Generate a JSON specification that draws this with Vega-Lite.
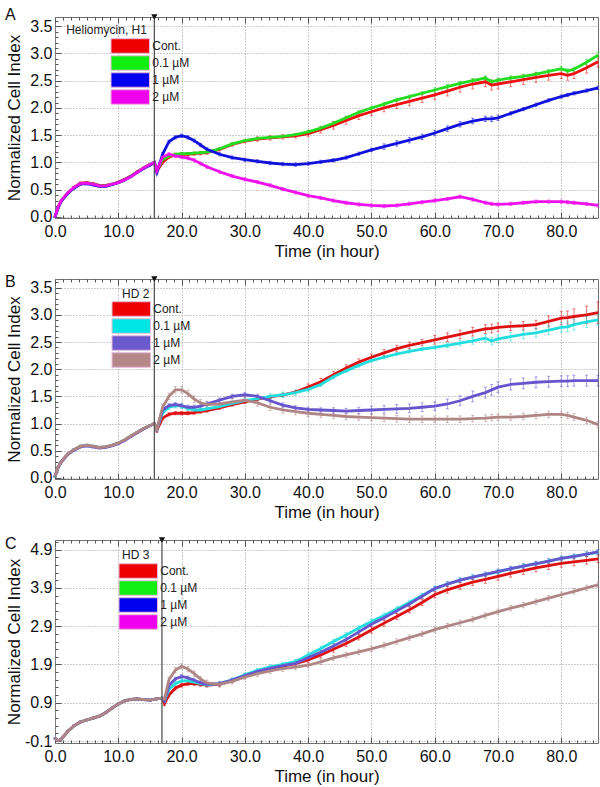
{
"$schema":"https://vega.github.io/schema/vega-lite/v6.json",
"padding":{"left":4,"top":6,"right":2,"bottom":2},
"bounds":"flush",
"spacing":61,
"resolve":{"scale":{"color":"independent","fill":"independent"},"legend":{"color":"independent","fill":"independent"}},
"config":{"font":"Liberation Sans","view":{"stroke":"#707070","strokeWidth":1},
"axis":{"labelFont":"Liberation Sans","titleFont":"Liberation Sans","labelColor":"#111","titleColor":"#111","titleFontWeight":"normal","labelFontSize":16,"titleFontSize":17,"labelOverlap":false,"labelFlush":false,"labelBound":false},
"title":{"font":"Liberation Sans","fontSize":16,"fontWeight":"normal","anchor":"start","frame":"bounds","color":"#111"},
"legend":{"labelFont":"Liberation Sans"}},
"datasets":{
"A":[
{"s":"Cont.","t":0,"v":0,"e":0.01},{"s":"Cont.","t":0.5,"v":0.18,"e":0.01},{"s":"Cont.","t":1,"v":0.3,"e":0.01},{"s":"Cont.","t":2,"v":0.44,"e":0.01},{"s":"Cont.","t":3,"v":0.54,"e":0.02},{"s":"Cont.","t":4,"v":0.62,"e":0.02},{"s":"Cont.","t":5,"v":0.63,"e":0.02},{"s":"Cont.","t":6,"v":0.61,"e":0.02},{"s":"Cont.","t":7,"v":0.58,"e":0.01},{"s":"Cont.","t":8,"v":0.58,"e":0.01},{"s":"Cont.","t":9,"v":0.6,"e":0.01},{"s":"Cont.","t":10,"v":0.64,"e":0.01},{"s":"Cont.","t":11,"v":0.69,"e":0.01},{"s":"Cont.","t":12,"v":0.75,"e":0.01},{"s":"Cont.","t":13,"v":0.83,"e":0.01},{"s":"Cont.","t":14,"v":0.9,"e":0.01},{"s":"Cont.","t":15,"v":0.96,"e":0.01},{"s":"Cont.","t":15.7,"v":1.0,"e":0.01},
{"s":"Cont.","t":16.1,"v":0.84,"e":0.03},{"s":"Cont.","t":17,"v":1.0,"e":0.03},{"s":"Cont.","t":18,"v":1.1,"e":0.03},{"s":"Cont.","t":19,"v":1.14,"e":0.03},{"s":"Cont.","t":20,"v":1.15,"e":0.03},{"s":"Cont.","t":21,"v":1.15,"e":0.03},{"s":"Cont.","t":22,"v":1.16,"e":0.03},{"s":"Cont.","t":23,"v":1.17,"e":0.03},{"s":"Cont.","t":24,"v":1.18,"e":0.03},{"s":"Cont.","t":26,"v":1.24,"e":0.03},{"s":"Cont.","t":28,"v":1.33,"e":0.03},{"s":"Cont.","t":30,"v":1.39,"e":0.03},{"s":"Cont.","t":32,"v":1.43,"e":0.04},{"s":"Cont.","t":34,"v":1.45,"e":0.04},{"s":"Cont.","t":36,"v":1.47,"e":0.04},{"s":"Cont.","t":38,"v":1.49,"e":0.04},{"s":"Cont.","t":40,"v":1.53,"e":0.05},{"s":"Cont.","t":42,"v":1.6,"e":0.06},{"s":"Cont.","t":44,"v":1.68,"e":0.07},{"s":"Cont.","t":46,"v":1.77,"e":0.07},{"s":"Cont.","t":48,"v":1.86,"e":0.07},{"s":"Cont.","t":50,"v":1.93,"e":0.07},{"s":"Cont.","t":52,"v":2.0,"e":0.07},{"s":"Cont.","t":54,"v":2.06,"e":0.07},{"s":"Cont.","t":56,"v":2.12,"e":0.08},{"s":"Cont.","t":58,"v":2.18,"e":0.08},{"s":"Cont.","t":60,"v":2.24,"e":0.09},{"s":"Cont.","t":62,"v":2.31,"e":0.09},{"s":"Cont.","t":64,"v":2.38,"e":0.09},{"s":"Cont.","t":66,"v":2.44,"e":0.09},{"s":"Cont.","t":68,"v":2.48,"e":0.09},{"s":"Cont.","t":69,"v":2.42,"e":0.09},{"s":"Cont.","t":70,"v":2.44,"e":0.09},{"s":"Cont.","t":72,"v":2.48,"e":0.09},{"s":"Cont.","t":74,"v":2.52,"e":0.09},{"s":"Cont.","t":76,"v":2.56,"e":0.09},{"s":"Cont.","t":78,"v":2.6,"e":0.09},{"s":"Cont.","t":80,"v":2.63,"e":0.09},{"s":"Cont.","t":81,"v":2.6,"e":0.09},{"s":"Cont.","t":82,"v":2.63,"e":0.09},{"s":"Cont.","t":84,"v":2.74,"e":0.1},{"s":"Cont.","t":85.8,"v":2.85,"e":0.1},
{"s":"0.1 µM","t":0,"v":0,"e":0.01},{"s":"0.1 µM","t":0.5,"v":0.17,"e":0.01},{"s":"0.1 µM","t":1,"v":0.3,"e":0.01},{"s":"0.1 µM","t":2,"v":0.43,"e":0.01},{"s":"0.1 µM","t":3,"v":0.53,"e":0.02},{"s":"0.1 µM","t":4,"v":0.61,"e":0.02},{"s":"0.1 µM","t":5,"v":0.62,"e":0.02},{"s":"0.1 µM","t":6,"v":0.6,"e":0.02},{"s":"0.1 µM","t":7,"v":0.57,"e":0.01},{"s":"0.1 µM","t":8,"v":0.57,"e":0.01},{"s":"0.1 µM","t":9,"v":0.6,"e":0.01},{"s":"0.1 µM","t":10,"v":0.63,"e":0.01},{"s":"0.1 µM","t":11,"v":0.68,"e":0.01},{"s":"0.1 µM","t":12,"v":0.75,"e":0.01},{"s":"0.1 µM","t":13,"v":0.82,"e":0.01},{"s":"0.1 µM","t":14,"v":0.9,"e":0.01},{"s":"0.1 µM","t":15,"v":0.96,"e":0.01},{"s":"0.1 µM","t":15.7,"v":1.0,"e":0.01},
{"s":"0.1 µM","t":16.1,"v":0.85,"e":0.02},{"s":"0.1 µM","t":17,"v":1.05,"e":0.02},{"s":"0.1 µM","t":18,"v":1.12,"e":0.02},{"s":"0.1 µM","t":19,"v":1.15,"e":0.02},{"s":"0.1 µM","t":20,"v":1.16,"e":0.02},{"s":"0.1 µM","t":21,"v":1.16,"e":0.02},{"s":"0.1 µM","t":22,"v":1.17,"e":0.02},{"s":"0.1 µM","t":23,"v":1.18,"e":0.02},{"s":"0.1 µM","t":24,"v":1.19,"e":0.02},{"s":"0.1 µM","t":26,"v":1.25,"e":0.02},{"s":"0.1 µM","t":28,"v":1.34,"e":0.02},{"s":"0.1 µM","t":30,"v":1.4,"e":0.02},{"s":"0.1 µM","t":32,"v":1.44,"e":0.02},{"s":"0.1 µM","t":34,"v":1.46,"e":0.02},{"s":"0.1 µM","t":36,"v":1.48,"e":0.02},{"s":"0.1 µM","t":38,"v":1.51,"e":0.02},{"s":"0.1 µM","t":40,"v":1.56,"e":0.03},{"s":"0.1 µM","t":42,"v":1.63,"e":0.03},{"s":"0.1 µM","t":44,"v":1.72,"e":0.03},{"s":"0.1 µM","t":46,"v":1.82,"e":0.03},{"s":"0.1 µM","t":48,"v":1.92,"e":0.03},{"s":"0.1 µM","t":50,"v":2.0,"e":0.03},{"s":"0.1 µM","t":52,"v":2.07,"e":0.03},{"s":"0.1 µM","t":54,"v":2.15,"e":0.03},{"s":"0.1 µM","t":56,"v":2.21,"e":0.03},{"s":"0.1 µM","t":58,"v":2.27,"e":0.03},{"s":"0.1 µM","t":60,"v":2.33,"e":0.04},{"s":"0.1 µM","t":62,"v":2.39,"e":0.04},{"s":"0.1 µM","t":64,"v":2.45,"e":0.04},{"s":"0.1 µM","t":66,"v":2.5,"e":0.04},{"s":"0.1 µM","t":68,"v":2.55,"e":0.04},{"s":"0.1 µM","t":69,"v":2.48,"e":0.04},{"s":"0.1 µM","t":70,"v":2.51,"e":0.04},{"s":"0.1 µM","t":72,"v":2.55,"e":0.04},{"s":"0.1 µM","t":74,"v":2.58,"e":0.04},{"s":"0.1 µM","t":76,"v":2.62,"e":0.04},{"s":"0.1 µM","t":78,"v":2.67,"e":0.04},{"s":"0.1 µM","t":80,"v":2.72,"e":0.04},{"s":"0.1 µM","t":81,"v":2.68,"e":0.04},{"s":"0.1 µM","t":82,"v":2.71,"e":0.04},{"s":"0.1 µM","t":84,"v":2.84,"e":0.05},{"s":"0.1 µM","t":85.8,"v":2.97,"e":0.05},
{"s":"1 µM","t":0,"v":0,"e":0.01},{"s":"1 µM","t":0.5,"v":0.17,"e":0.01},{"s":"1 µM","t":1,"v":0.29,"e":0.01},{"s":"1 µM","t":2,"v":0.43,"e":0.01},{"s":"1 µM","t":3,"v":0.53,"e":0.02},{"s":"1 µM","t":4,"v":0.6,"e":0.02},{"s":"1 µM","t":5,"v":0.61,"e":0.02},{"s":"1 µM","t":6,"v":0.59,"e":0.02},{"s":"1 µM","t":7,"v":0.56,"e":0.01},{"s":"1 µM","t":8,"v":0.56,"e":0.01},{"s":"1 µM","t":9,"v":0.59,"e":0.01},{"s":"1 µM","t":10,"v":0.63,"e":0.01},{"s":"1 µM","t":11,"v":0.68,"e":0.01},{"s":"1 µM","t":12,"v":0.74,"e":0.01},{"s":"1 µM","t":13,"v":0.82,"e":0.01},{"s":"1 µM","t":14,"v":0.89,"e":0.01},{"s":"1 µM","t":15,"v":0.95,"e":0.01},{"s":"1 µM","t":15.7,"v":1.0,"e":0.01},
{"s":"1 µM","t":16.1,"v":0.82,"e":0.03},{"s":"1 µM","t":17,"v":1.15,"e":0.03},{"s":"1 µM","t":18,"v":1.38,"e":0.03},{"s":"1 µM","t":19,"v":1.46,"e":0.03},{"s":"1 µM","t":20,"v":1.49,"e":0.03},{"s":"1 µM","t":21,"v":1.46,"e":0.03},{"s":"1 µM","t":22,"v":1.4,"e":0.03},{"s":"1 µM","t":23,"v":1.32,"e":0.03},{"s":"1 µM","t":24,"v":1.24,"e":0.03},{"s":"1 µM","t":26,"v":1.15,"e":0.03},{"s":"1 µM","t":28,"v":1.09,"e":0.03},{"s":"1 µM","t":30,"v":1.05,"e":0.03},{"s":"1 µM","t":32,"v":1.02,"e":0.03},{"s":"1 µM","t":34,"v":0.99,"e":0.03},{"s":"1 µM","t":36,"v":0.97,"e":0.03},{"s":"1 µM","t":38,"v":0.96,"e":0.03},{"s":"1 µM","t":40,"v":0.98,"e":0.03},{"s":"1 µM","t":42,"v":1.01,"e":0.03},{"s":"1 µM","t":44,"v":1.04,"e":0.03},{"s":"1 µM","t":46,"v":1.09,"e":0.03},{"s":"1 µM","t":48,"v":1.16,"e":0.03},{"s":"1 µM","t":50,"v":1.23,"e":0.03},{"s":"1 µM","t":52,"v":1.29,"e":0.05},{"s":"1 µM","t":54,"v":1.35,"e":0.05},{"s":"1 µM","t":56,"v":1.41,"e":0.05},{"s":"1 µM","t":58,"v":1.47,"e":0.05},{"s":"1 µM","t":60,"v":1.54,"e":0.05},{"s":"1 µM","t":62,"v":1.62,"e":0.05},{"s":"1 µM","t":64,"v":1.7,"e":0.05},{"s":"1 µM","t":66,"v":1.76,"e":0.05},{"s":"1 µM","t":68,"v":1.8,"e":0.05},{"s":"1 µM","t":69,"v":1.8,"e":0.05},{"s":"1 µM","t":70,"v":1.82,"e":0.05},{"s":"1 µM","t":72,"v":1.9,"e":0.03},{"s":"1 µM","t":74,"v":1.98,"e":0.03},{"s":"1 µM","t":76,"v":2.06,"e":0.03},{"s":"1 µM","t":78,"v":2.14,"e":0.03},{"s":"1 µM","t":80,"v":2.21,"e":0.03},{"s":"1 µM","t":81,"v":2.24,"e":0.03},{"s":"1 µM","t":82,"v":2.27,"e":0.03},{"s":"1 µM","t":84,"v":2.32,"e":0.03},{"s":"1 µM","t":85.8,"v":2.37,"e":0.03},
{"s":"2 µM","t":0,"v":0,"e":0.01},{"s":"2 µM","t":0.5,"v":0.18,"e":0.01},{"s":"2 µM","t":1,"v":0.3,"e":0.01},{"s":"2 µM","t":2,"v":0.44,"e":0.01},{"s":"2 µM","t":3,"v":0.54,"e":0.02},{"s":"2 µM","t":4,"v":0.61,"e":0.02},{"s":"2 µM","t":5,"v":0.62,"e":0.02},{"s":"2 µM","t":6,"v":0.6,"e":0.02},{"s":"2 µM","t":7,"v":0.57,"e":0.01},{"s":"2 µM","t":8,"v":0.57,"e":0.01},{"s":"2 µM","t":9,"v":0.6,"e":0.01},{"s":"2 µM","t":10,"v":0.63,"e":0.01},{"s":"2 µM","t":11,"v":0.68,"e":0.01},{"s":"2 µM","t":12,"v":0.74,"e":0.01},{"s":"2 µM","t":13,"v":0.82,"e":0.01},{"s":"2 µM","t":14,"v":0.9,"e":0.01},{"s":"2 µM","t":15,"v":0.96,"e":0.01},{"s":"2 µM","t":15.7,"v":1.0,"e":0.01},
{"s":"2 µM","t":16.1,"v":0.85,"e":0.03},{"s":"2 µM","t":17,"v":1.1,"e":0.03},{"s":"2 µM","t":18,"v":1.15,"e":0.03},{"s":"2 µM","t":19,"v":1.12,"e":0.03},{"s":"2 µM","t":20,"v":1.1,"e":0.03},{"s":"2 µM","t":21,"v":1.08,"e":0.03},{"s":"2 µM","t":22,"v":1.04,"e":0.03},{"s":"2 µM","t":23,"v":0.98,"e":0.03},{"s":"2 µM","t":24,"v":0.92,"e":0.03},{"s":"2 µM","t":26,"v":0.83,"e":0.03},{"s":"2 µM","t":28,"v":0.75,"e":0.03},{"s":"2 µM","t":30,"v":0.69,"e":0.03},{"s":"2 µM","t":32,"v":0.64,"e":0.03},{"s":"2 µM","t":34,"v":0.58,"e":0.03},{"s":"2 µM","t":36,"v":0.51,"e":0.03},{"s":"2 µM","t":38,"v":0.45,"e":0.03},{"s":"2 µM","t":40,"v":0.39,"e":0.03},{"s":"2 µM","t":42,"v":0.35,"e":0.03},{"s":"2 µM","t":44,"v":0.3,"e":0.03},{"s":"2 µM","t":46,"v":0.26,"e":0.03},{"s":"2 µM","t":48,"v":0.23,"e":0.03},{"s":"2 µM","t":50,"v":0.21,"e":0.03},{"s":"2 µM","t":52,"v":0.2,"e":0.03},{"s":"2 µM","t":54,"v":0.21,"e":0.03},{"s":"2 µM","t":56,"v":0.24,"e":0.03},{"s":"2 µM","t":58,"v":0.27,"e":0.03},{"s":"2 µM","t":60,"v":0.3,"e":0.03},{"s":"2 µM","t":62,"v":0.33,"e":0.03},{"s":"2 µM","t":64,"v":0.37,"e":0.03},{"s":"2 µM","t":66,"v":0.32,"e":0.03},{"s":"2 µM","t":68,"v":0.26,"e":0.03},{"s":"2 µM","t":69,"v":0.24,"e":0.03},{"s":"2 µM","t":70,"v":0.23,"e":0.03},{"s":"2 µM","t":72,"v":0.24,"e":0.03},{"s":"2 µM","t":74,"v":0.26,"e":0.03},{"s":"2 µM","t":76,"v":0.28,"e":0.03},{"s":"2 µM","t":78,"v":0.28,"e":0.03},{"s":"2 µM","t":80,"v":0.28,"e":0.03},{"s":"2 µM","t":81,"v":0.27,"e":0.03},{"s":"2 µM","t":82,"v":0.26,"e":0.03},{"s":"2 µM","t":84,"v":0.24,"e":0.03},{"s":"2 µM","t":85.8,"v":0.21,"e":0.03}
],
"B":[
{"s":"Cont.","t":0,"v":0.02,"e":0.01},{"s":"Cont.","t":0.5,"v":0.2,"e":0.01},{"s":"Cont.","t":1,"v":0.3,"e":0.01},{"s":"Cont.","t":2,"v":0.44,"e":0.01},{"s":"Cont.","t":3,"v":0.52,"e":0.02},{"s":"Cont.","t":4,"v":0.58,"e":0.02},{"s":"Cont.","t":5,"v":0.6,"e":0.02},{"s":"Cont.","t":6,"v":0.58,"e":0.02},{"s":"Cont.","t":7,"v":0.56,"e":0.01},{"s":"Cont.","t":8,"v":0.57,"e":0.01},{"s":"Cont.","t":9,"v":0.6,"e":0.01},{"s":"Cont.","t":10,"v":0.64,"e":0.01},{"s":"Cont.","t":11,"v":0.7,"e":0.01},{"s":"Cont.","t":12,"v":0.77,"e":0.01},{"s":"Cont.","t":13,"v":0.84,"e":0.01},{"s":"Cont.","t":14,"v":0.91,"e":0.01},{"s":"Cont.","t":15,"v":0.96,"e":0.01},{"s":"Cont.","t":15.7,"v":1.0,"e":0.01},
{"s":"Cont.","t":16.1,"v":0.88,"e":0.03},{"s":"Cont.","t":17,"v":1.1,"e":0.03},{"s":"Cont.","t":18,"v":1.17,"e":0.03},{"s":"Cont.","t":19,"v":1.19,"e":0.03},{"s":"Cont.","t":20,"v":1.19,"e":0.03},{"s":"Cont.","t":21,"v":1.19,"e":0.03},{"s":"Cont.","t":22,"v":1.2,"e":0.03},{"s":"Cont.","t":23,"v":1.22,"e":0.03},{"s":"Cont.","t":24,"v":1.24,"e":0.03},{"s":"Cont.","t":26,"v":1.29,"e":0.03},{"s":"Cont.","t":28,"v":1.35,"e":0.03},{"s":"Cont.","t":30,"v":1.4,"e":0.03},{"s":"Cont.","t":32,"v":1.45,"e":0.03},{"s":"Cont.","t":34,"v":1.49,"e":0.03},{"s":"Cont.","t":36,"v":1.53,"e":0.03},{"s":"Cont.","t":38,"v":1.58,"e":0.03},{"s":"Cont.","t":40,"v":1.67,"e":0.06},{"s":"Cont.","t":42,"v":1.77,"e":0.06},{"s":"Cont.","t":44,"v":1.9,"e":0.06},{"s":"Cont.","t":46,"v":2.02,"e":0.06},{"s":"Cont.","t":48,"v":2.13,"e":0.06},{"s":"Cont.","t":50,"v":2.22,"e":0.06},{"s":"Cont.","t":52,"v":2.3,"e":0.06},{"s":"Cont.","t":54,"v":2.38,"e":0.06},{"s":"Cont.","t":56,"v":2.44,"e":0.06},{"s":"Cont.","t":58,"v":2.49,"e":0.06},{"s":"Cont.","t":60,"v":2.54,"e":0.08},{"s":"Cont.","t":62,"v":2.59,"e":0.08},{"s":"Cont.","t":64,"v":2.64,"e":0.08},{"s":"Cont.","t":66,"v":2.69,"e":0.08},{"s":"Cont.","t":68,"v":2.74,"e":0.08},{"s":"Cont.","t":69,"v":2.75,"e":0.08},{"s":"Cont.","t":70,"v":2.77,"e":0.08},{"s":"Cont.","t":72,"v":2.79,"e":0.08},{"s":"Cont.","t":74,"v":2.8,"e":0.08},{"s":"Cont.","t":76,"v":2.82,"e":0.08},{"s":"Cont.","t":78,"v":2.88,"e":0.1},{"s":"Cont.","t":80,"v":2.94,"e":0.12},{"s":"Cont.","t":81,"v":2.95,"e":0.12},{"s":"Cont.","t":82,"v":2.97,"e":0.14},{"s":"Cont.","t":84,"v":3.0,"e":0.16},{"s":"Cont.","t":85.8,"v":3.04,"e":0.2},
{"s":"0.1 µM","t":0,"v":0.02,"e":0.01},{"s":"0.1 µM","t":0.5,"v":0.2,"e":0.01},{"s":"0.1 µM","t":1,"v":0.3,"e":0.01},{"s":"0.1 µM","t":2,"v":0.44,"e":0.01},{"s":"0.1 µM","t":3,"v":0.52,"e":0.02},{"s":"0.1 µM","t":4,"v":0.58,"e":0.02},{"s":"0.1 µM","t":5,"v":0.6,"e":0.02},{"s":"0.1 µM","t":6,"v":0.58,"e":0.02},{"s":"0.1 µM","t":7,"v":0.56,"e":0.01},{"s":"0.1 µM","t":8,"v":0.57,"e":0.01},{"s":"0.1 µM","t":9,"v":0.6,"e":0.01},{"s":"0.1 µM","t":10,"v":0.64,"e":0.01},{"s":"0.1 µM","t":11,"v":0.7,"e":0.01},{"s":"0.1 µM","t":12,"v":0.77,"e":0.01},{"s":"0.1 µM","t":13,"v":0.84,"e":0.01},{"s":"0.1 µM","t":14,"v":0.91,"e":0.01},{"s":"0.1 µM","t":15,"v":0.96,"e":0.01},{"s":"0.1 µM","t":15.7,"v":1.0,"e":0.01},
{"s":"0.1 µM","t":16.1,"v":0.9,"e":0.04},{"s":"0.1 µM","t":17,"v":1.2,"e":0.04},{"s":"0.1 µM","t":18,"v":1.3,"e":0.04},{"s":"0.1 µM","t":19,"v":1.33,"e":0.04},{"s":"0.1 µM","t":20,"v":1.32,"e":0.04},{"s":"0.1 µM","t":21,"v":1.28,"e":0.04},{"s":"0.1 µM","t":22,"v":1.25,"e":0.04},{"s":"0.1 µM","t":23,"v":1.25,"e":0.04},{"s":"0.1 µM","t":24,"v":1.27,"e":0.04},{"s":"0.1 µM","t":26,"v":1.31,"e":0.04},{"s":"0.1 µM","t":28,"v":1.37,"e":0.04},{"s":"0.1 µM","t":30,"v":1.42,"e":0.04},{"s":"0.1 µM","t":32,"v":1.46,"e":0.04},{"s":"0.1 µM","t":34,"v":1.5,"e":0.05},{"s":"0.1 µM","t":36,"v":1.53,"e":0.05},{"s":"0.1 µM","t":38,"v":1.57,"e":0.05},{"s":"0.1 µM","t":40,"v":1.63,"e":0.05},{"s":"0.1 µM","t":42,"v":1.72,"e":0.04},{"s":"0.1 µM","t":44,"v":1.86,"e":0.03},{"s":"0.1 µM","t":46,"v":1.97,"e":0.03},{"s":"0.1 µM","t":48,"v":2.07,"e":0.03},{"s":"0.1 µM","t":50,"v":2.16,"e":0.03},{"s":"0.1 µM","t":52,"v":2.22,"e":0.03},{"s":"0.1 µM","t":54,"v":2.28,"e":0.03},{"s":"0.1 µM","t":56,"v":2.33,"e":0.03},{"s":"0.1 µM","t":58,"v":2.37,"e":0.03},{"s":"0.1 µM","t":60,"v":2.4,"e":0.03},{"s":"0.1 µM","t":62,"v":2.44,"e":0.04},{"s":"0.1 µM","t":64,"v":2.48,"e":0.05},{"s":"0.1 µM","t":66,"v":2.52,"e":0.06},{"s":"0.1 µM","t":68,"v":2.57,"e":0.07},{"s":"0.1 µM","t":69,"v":2.52,"e":0.07},{"s":"0.1 µM","t":70,"v":2.56,"e":0.07},{"s":"0.1 µM","t":72,"v":2.6,"e":0.08},{"s":"0.1 µM","t":74,"v":2.64,"e":0.08},{"s":"0.1 µM","t":76,"v":2.67,"e":0.08},{"s":"0.1 µM","t":78,"v":2.72,"e":0.08},{"s":"0.1 µM","t":80,"v":2.77,"e":0.09},{"s":"0.1 µM","t":81,"v":2.78,"e":0.09},{"s":"0.1 µM","t":82,"v":2.82,"e":0.1},{"s":"0.1 µM","t":84,"v":2.87,"e":0.1},{"s":"0.1 µM","t":85.8,"v":2.91,"e":0.1},
{"s":"1 µM","t":0,"v":0.03,"e":0.01},{"s":"1 µM","t":0.5,"v":0.19,"e":0.01},{"s":"1 µM","t":1,"v":0.29,"e":0.01},{"s":"1 µM","t":2,"v":0.43,"e":0.01},{"s":"1 µM","t":3,"v":0.51,"e":0.02},{"s":"1 µM","t":4,"v":0.57,"e":0.02},{"s":"1 µM","t":5,"v":0.59,"e":0.02},{"s":"1 µM","t":6,"v":0.57,"e":0.02},{"s":"1 µM","t":7,"v":0.55,"e":0.01},{"s":"1 µM","t":8,"v":0.56,"e":0.01},{"s":"1 µM","t":9,"v":0.59,"e":0.01},{"s":"1 µM","t":10,"v":0.63,"e":0.01},{"s":"1 µM","t":11,"v":0.69,"e":0.01},{"s":"1 µM","t":12,"v":0.76,"e":0.01},{"s":"1 µM","t":13,"v":0.83,"e":0.01},{"s":"1 µM","t":14,"v":0.9,"e":0.01},{"s":"1 µM","t":15,"v":0.96,"e":0.01},{"s":"1 µM","t":15.7,"v":1.0,"e":0.01},
{"s":"1 µM","t":16.1,"v":0.9,"e":0.04},{"s":"1 µM","t":17,"v":1.25,"e":0.04},{"s":"1 µM","t":18,"v":1.33,"e":0.04},{"s":"1 µM","t":19,"v":1.35,"e":0.04},{"s":"1 µM","t":20,"v":1.33,"e":0.04},{"s":"1 µM","t":21,"v":1.3,"e":0.04},{"s":"1 µM","t":22,"v":1.3,"e":0.04},{"s":"1 µM","t":23,"v":1.32,"e":0.04},{"s":"1 µM","t":24,"v":1.36,"e":0.04},{"s":"1 µM","t":26,"v":1.43,"e":0.04},{"s":"1 µM","t":28,"v":1.5,"e":0.04},{"s":"1 µM","t":30,"v":1.53,"e":0.04},{"s":"1 µM","t":32,"v":1.5,"e":0.04},{"s":"1 µM","t":34,"v":1.42,"e":0.04},{"s":"1 µM","t":36,"v":1.34,"e":0.04},{"s":"1 µM","t":38,"v":1.29,"e":0.04},{"s":"1 µM","t":40,"v":1.26,"e":0.04},{"s":"1 µM","t":42,"v":1.25,"e":0.04},{"s":"1 µM","t":44,"v":1.24,"e":0.05},{"s":"1 µM","t":46,"v":1.23,"e":0.05},{"s":"1 µM","t":48,"v":1.24,"e":0.06},{"s":"1 µM","t":50,"v":1.25,"e":0.07},{"s":"1 µM","t":52,"v":1.26,"e":0.07},{"s":"1 µM","t":54,"v":1.27,"e":0.08},{"s":"1 µM","t":56,"v":1.28,"e":0.08},{"s":"1 µM","t":58,"v":1.3,"e":0.08},{"s":"1 µM","t":60,"v":1.32,"e":0.08},{"s":"1 µM","t":62,"v":1.36,"e":0.09},{"s":"1 µM","t":64,"v":1.42,"e":0.09},{"s":"1 µM","t":66,"v":1.5,"e":0.1},{"s":"1 µM","t":68,"v":1.57,"e":0.1},{"s":"1 µM","t":69,"v":1.62,"e":0.1},{"s":"1 µM","t":70,"v":1.67,"e":0.1},{"s":"1 µM","t":72,"v":1.72,"e":0.1},{"s":"1 µM","t":74,"v":1.74,"e":0.1},{"s":"1 µM","t":76,"v":1.76,"e":0.1},{"s":"1 µM","t":78,"v":1.77,"e":0.1},{"s":"1 µM","t":80,"v":1.78,"e":0.1},{"s":"1 µM","t":81,"v":1.78,"e":0.1},{"s":"1 µM","t":82,"v":1.79,"e":0.1},{"s":"1 µM","t":84,"v":1.79,"e":0.1},{"s":"1 µM","t":85.8,"v":1.79,"e":0.1},
{"s":"2 µM","t":0,"v":0.03,"e":0.01},{"s":"2 µM","t":0.5,"v":0.2,"e":0.01},{"s":"2 µM","t":1,"v":0.3,"e":0.01},{"s":"2 µM","t":2,"v":0.44,"e":0.01},{"s":"2 µM","t":3,"v":0.52,"e":0.02},{"s":"2 µM","t":4,"v":0.58,"e":0.02},{"s":"2 µM","t":5,"v":0.6,"e":0.02},{"s":"2 µM","t":6,"v":0.58,"e":0.02},{"s":"2 µM","t":7,"v":0.56,"e":0.01},{"s":"2 µM","t":8,"v":0.57,"e":0.01},{"s":"2 µM","t":9,"v":0.6,"e":0.01},{"s":"2 µM","t":10,"v":0.64,"e":0.01},{"s":"2 µM","t":11,"v":0.7,"e":0.01},{"s":"2 µM","t":12,"v":0.77,"e":0.01},{"s":"2 µM","t":13,"v":0.84,"e":0.01},{"s":"2 µM","t":14,"v":0.91,"e":0.01},{"s":"2 µM","t":15,"v":0.96,"e":0.01},{"s":"2 µM","t":15.7,"v":1.0,"e":0.01},
{"s":"2 µM","t":16.1,"v":0.9,"e":0.06},{"s":"2 µM","t":17,"v":1.3,"e":0.06},{"s":"2 µM","t":18,"v":1.5,"e":0.06},{"s":"2 µM","t":19,"v":1.62,"e":0.06},{"s":"2 µM","t":20,"v":1.62,"e":0.06},{"s":"2 µM","t":21,"v":1.55,"e":0.06},{"s":"2 µM","t":22,"v":1.45,"e":0.06},{"s":"2 µM","t":23,"v":1.38,"e":0.06},{"s":"2 µM","t":24,"v":1.35,"e":0.06},{"s":"2 µM","t":26,"v":1.36,"e":0.06},{"s":"2 µM","t":28,"v":1.4,"e":0.06},{"s":"2 µM","t":30,"v":1.43,"e":0.06},{"s":"2 µM","t":32,"v":1.38,"e":0.06},{"s":"2 µM","t":34,"v":1.3,"e":0.06},{"s":"2 µM","t":36,"v":1.25,"e":0.06},{"s":"2 µM","t":38,"v":1.22,"e":0.06},{"s":"2 µM","t":40,"v":1.19,"e":0.06},{"s":"2 µM","t":42,"v":1.17,"e":0.06},{"s":"2 µM","t":44,"v":1.15,"e":0.06},{"s":"2 µM","t":46,"v":1.13,"e":0.06},{"s":"2 µM","t":48,"v":1.12,"e":0.06},{"s":"2 µM","t":50,"v":1.11,"e":0.06},{"s":"2 µM","t":52,"v":1.1,"e":0.06},{"s":"2 µM","t":54,"v":1.09,"e":0.06},{"s":"2 µM","t":56,"v":1.08,"e":0.06},{"s":"2 µM","t":58,"v":1.08,"e":0.06},{"s":"2 µM","t":60,"v":1.08,"e":0.06},{"s":"2 µM","t":62,"v":1.08,"e":0.06},{"s":"2 µM","t":64,"v":1.08,"e":0.06},{"s":"2 µM","t":66,"v":1.09,"e":0.06},{"s":"2 µM","t":68,"v":1.1,"e":0.06},{"s":"2 µM","t":69,"v":1.11,"e":0.06},{"s":"2 µM","t":70,"v":1.12,"e":0.06},{"s":"2 µM","t":72,"v":1.12,"e":0.06},{"s":"2 µM","t":74,"v":1.13,"e":0.06},{"s":"2 µM","t":76,"v":1.15,"e":0.06},{"s":"2 µM","t":78,"v":1.17,"e":0.06},{"s":"2 µM","t":80,"v":1.17,"e":0.06},{"s":"2 µM","t":81,"v":1.15,"e":0.06},{"s":"2 µM","t":82,"v":1.12,"e":0.06},{"s":"2 µM","t":84,"v":1.06,"e":0.06},{"s":"2 µM","t":85.8,"v":0.98,"e":0.06}
],
"C":[
{"s":"Cont.","t":0,"v":-0.03,"e":0.01},{"s":"Cont.","t":0.5,"v":-0.09,"e":0.01},{"s":"Cont.","t":1,"v":-0.05,"e":0.01},{"s":"Cont.","t":2,"v":0.15,"e":0.02},{"s":"Cont.","t":3,"v":0.3,"e":0.02},{"s":"Cont.","t":4,"v":0.4,"e":0.02},{"s":"Cont.","t":5,"v":0.45,"e":0.02},{"s":"Cont.","t":6,"v":0.5,"e":0.02},{"s":"Cont.","t":7,"v":0.55,"e":0.02},{"s":"Cont.","t":8,"v":0.64,"e":0.02},{"s":"Cont.","t":9,"v":0.76,"e":0.02},{"s":"Cont.","t":10,"v":0.87,"e":0.02},{"s":"Cont.","t":11,"v":0.95,"e":0.02},{"s":"Cont.","t":12,"v":0.99,"e":0.02},{"s":"Cont.","t":13,"v":1.0,"e":0.02},{"s":"Cont.","t":14,"v":0.98,"e":0.02},{"s":"Cont.","t":15,"v":0.97,"e":0.02},{"s":"Cont.","t":16,"v":1.0,"e":0.02},{"s":"Cont.","t":16.9,"v":1.02,"e":0.02},
{"s":"Cont.","t":17.3,"v":0.88,"e":0.05},{"s":"Cont.","t":18,"v":1.1,"e":0.05},{"s":"Cont.","t":19,"v":1.28,"e":0.05},{"s":"Cont.","t":20,"v":1.36,"e":0.05},{"s":"Cont.","t":21,"v":1.4,"e":0.05},{"s":"Cont.","t":22,"v":1.4,"e":0.05},{"s":"Cont.","t":23,"v":1.38,"e":0.05},{"s":"Cont.","t":24,"v":1.36,"e":0.05},{"s":"Cont.","t":26,"v":1.38,"e":0.05},{"s":"Cont.","t":28,"v":1.48,"e":0.05},{"s":"Cont.","t":30,"v":1.6,"e":0.05},{"s":"Cont.","t":32,"v":1.72,"e":0.05},{"s":"Cont.","t":34,"v":1.8,"e":0.05},{"s":"Cont.","t":36,"v":1.86,"e":0.06},{"s":"Cont.","t":38,"v":1.92,"e":0.07},{"s":"Cont.","t":40,"v":2.02,"e":0.08},{"s":"Cont.","t":42,"v":2.15,"e":0.08},{"s":"Cont.","t":44,"v":2.3,"e":0.08},{"s":"Cont.","t":46,"v":2.45,"e":0.08},{"s":"Cont.","t":48,"v":2.62,"e":0.08},{"s":"Cont.","t":50,"v":2.8,"e":0.08},{"s":"Cont.","t":52,"v":2.98,"e":0.08},{"s":"Cont.","t":54,"v":3.15,"e":0.08},{"s":"Cont.","t":56,"v":3.33,"e":0.08},{"s":"Cont.","t":58,"v":3.52,"e":0.08},{"s":"Cont.","t":60,"v":3.72,"e":0.08},{"s":"Cont.","t":62,"v":3.85,"e":0.09},{"s":"Cont.","t":64,"v":3.95,"e":0.09},{"s":"Cont.","t":66,"v":4.05,"e":0.09},{"s":"Cont.","t":68,"v":4.12,"e":0.1},{"s":"Cont.","t":70,"v":4.2,"e":0.1},{"s":"Cont.","t":72,"v":4.28,"e":0.1},{"s":"Cont.","t":74,"v":4.35,"e":0.1},{"s":"Cont.","t":76,"v":4.42,"e":0.1},{"s":"Cont.","t":78,"v":4.48,"e":0.1},{"s":"Cont.","t":80,"v":4.54,"e":0.1},{"s":"Cont.","t":82,"v":4.58,"e":0.1},{"s":"Cont.","t":84,"v":4.62,"e":0.1},{"s":"Cont.","t":85.8,"v":4.66,"e":0.1},
{"s":"0.1 µM","t":0,"v":-0.03,"e":0.01},{"s":"0.1 µM","t":0.5,"v":-0.09,"e":0.01},{"s":"0.1 µM","t":1,"v":-0.05,"e":0.01},{"s":"0.1 µM","t":2,"v":0.15,"e":0.02},{"s":"0.1 µM","t":3,"v":0.3,"e":0.02},{"s":"0.1 µM","t":4,"v":0.4,"e":0.02},{"s":"0.1 µM","t":5,"v":0.45,"e":0.02},{"s":"0.1 µM","t":6,"v":0.5,"e":0.02},{"s":"0.1 µM","t":7,"v":0.55,"e":0.02},{"s":"0.1 µM","t":8,"v":0.64,"e":0.02},{"s":"0.1 µM","t":9,"v":0.76,"e":0.02},{"s":"0.1 µM","t":10,"v":0.87,"e":0.02},{"s":"0.1 µM","t":11,"v":0.95,"e":0.02},{"s":"0.1 µM","t":12,"v":0.99,"e":0.02},{"s":"0.1 µM","t":13,"v":1.0,"e":0.02},{"s":"0.1 µM","t":14,"v":0.98,"e":0.02},{"s":"0.1 µM","t":15,"v":0.97,"e":0.02},{"s":"0.1 µM","t":16,"v":1.0,"e":0.02},{"s":"0.1 µM","t":16.9,"v":1.02,"e":0.02},
{"s":"0.1 µM","t":17.3,"v":0.95,"e":0.05},{"s":"0.1 µM","t":18,"v":1.25,"e":0.05},{"s":"0.1 µM","t":19,"v":1.4,"e":0.05},{"s":"0.1 µM","t":20,"v":1.47,"e":0.05},{"s":"0.1 µM","t":21,"v":1.47,"e":0.05},{"s":"0.1 µM","t":22,"v":1.44,"e":0.05},{"s":"0.1 µM","t":23,"v":1.4,"e":0.05},{"s":"0.1 µM","t":24,"v":1.37,"e":0.05},{"s":"0.1 µM","t":26,"v":1.4,"e":0.05},{"s":"0.1 µM","t":28,"v":1.5,"e":0.05},{"s":"0.1 µM","t":30,"v":1.63,"e":0.05},{"s":"0.1 µM","t":32,"v":1.75,"e":0.05},{"s":"0.1 µM","t":34,"v":1.84,"e":0.05},{"s":"0.1 µM","t":36,"v":1.9,"e":0.05},{"s":"0.1 µM","t":38,"v":1.98,"e":0.05},{"s":"0.1 µM","t":40,"v":2.15,"e":0.06},{"s":"0.1 µM","t":42,"v":2.32,"e":0.06},{"s":"0.1 µM","t":44,"v":2.5,"e":0.06},{"s":"0.1 µM","t":46,"v":2.67,"e":0.06},{"s":"0.1 µM","t":48,"v":2.85,"e":0.06},{"s":"0.1 µM","t":50,"v":3.02,"e":0.06},{"s":"0.1 µM","t":52,"v":3.18,"e":0.06},{"s":"0.1 µM","t":54,"v":3.35,"e":0.06},{"s":"0.1 µM","t":56,"v":3.52,"e":0.06},{"s":"0.1 µM","t":58,"v":3.7,"e":0.06},{"s":"0.1 µM","t":60,"v":3.88,"e":0.06},{"s":"0.1 µM","t":62,"v":4.0,"e":0.06},{"s":"0.1 µM","t":64,"v":4.1,"e":0.06},{"s":"0.1 µM","t":66,"v":4.18,"e":0.06},{"s":"0.1 µM","t":68,"v":4.25,"e":0.06},{"s":"0.1 µM","t":70,"v":4.32,"e":0.06},{"s":"0.1 µM","t":72,"v":4.4,"e":0.06},{"s":"0.1 µM","t":74,"v":4.47,"e":0.06},{"s":"0.1 µM","t":76,"v":4.53,"e":0.06},{"s":"0.1 µM","t":78,"v":4.6,"e":0.06},{"s":"0.1 µM","t":80,"v":4.67,"e":0.06},{"s":"0.1 µM","t":82,"v":4.72,"e":0.06},{"s":"0.1 µM","t":84,"v":4.78,"e":0.06},{"s":"0.1 µM","t":85.8,"v":4.83,"e":0.06},
{"s":"1 µM","t":0,"v":-0.03,"e":0.01},{"s":"1 µM","t":0.5,"v":-0.09,"e":0.01},{"s":"1 µM","t":1,"v":-0.05,"e":0.01},{"s":"1 µM","t":2,"v":0.15,"e":0.02},{"s":"1 µM","t":3,"v":0.3,"e":0.02},{"s":"1 µM","t":4,"v":0.4,"e":0.02},{"s":"1 µM","t":5,"v":0.45,"e":0.02},{"s":"1 µM","t":6,"v":0.5,"e":0.02},{"s":"1 µM","t":7,"v":0.55,"e":0.02},{"s":"1 µM","t":8,"v":0.64,"e":0.02},{"s":"1 µM","t":9,"v":0.76,"e":0.02},{"s":"1 µM","t":10,"v":0.87,"e":0.02},{"s":"1 µM","t":11,"v":0.95,"e":0.02},{"s":"1 µM","t":12,"v":0.99,"e":0.02},{"s":"1 µM","t":13,"v":1.0,"e":0.02},{"s":"1 µM","t":14,"v":0.98,"e":0.02},{"s":"1 µM","t":15,"v":0.97,"e":0.02},{"s":"1 µM","t":16,"v":1.0,"e":0.02},{"s":"1 µM","t":16.9,"v":1.02,"e":0.02},
{"s":"1 µM","t":17.3,"v":0.95,"e":0.05},{"s":"1 µM","t":18,"v":1.35,"e":0.05},{"s":"1 µM","t":19,"v":1.52,"e":0.05},{"s":"1 µM","t":20,"v":1.59,"e":0.05},{"s":"1 µM","t":21,"v":1.55,"e":0.05},{"s":"1 µM","t":22,"v":1.49,"e":0.05},{"s":"1 µM","t":23,"v":1.42,"e":0.05},{"s":"1 µM","t":24,"v":1.38,"e":0.05},{"s":"1 µM","t":26,"v":1.4,"e":0.05},{"s":"1 µM","t":28,"v":1.49,"e":0.05},{"s":"1 µM","t":30,"v":1.61,"e":0.05},{"s":"1 µM","t":32,"v":1.72,"e":0.05},{"s":"1 µM","t":34,"v":1.8,"e":0.05},{"s":"1 µM","t":36,"v":1.87,"e":0.05},{"s":"1 µM","t":38,"v":1.93,"e":0.05},{"s":"1 µM","t":40,"v":2.08,"e":0.06},{"s":"1 µM","t":42,"v":2.22,"e":0.06},{"s":"1 µM","t":44,"v":2.38,"e":0.06},{"s":"1 µM","t":46,"v":2.55,"e":0.06},{"s":"1 µM","t":48,"v":2.75,"e":0.06},{"s":"1 µM","t":50,"v":2.95,"e":0.06},{"s":"1 µM","t":52,"v":3.12,"e":0.06},{"s":"1 µM","t":54,"v":3.3,"e":0.06},{"s":"1 µM","t":56,"v":3.48,"e":0.06},{"s":"1 µM","t":58,"v":3.68,"e":0.06},{"s":"1 µM","t":60,"v":3.88,"e":0.06},{"s":"1 µM","t":62,"v":4.0,"e":0.06},{"s":"1 µM","t":64,"v":4.1,"e":0.06},{"s":"1 µM","t":66,"v":4.18,"e":0.06},{"s":"1 µM","t":68,"v":4.25,"e":0.06},{"s":"1 µM","t":70,"v":4.33,"e":0.06},{"s":"1 µM","t":72,"v":4.4,"e":0.06},{"s":"1 µM","t":74,"v":4.47,"e":0.06},{"s":"1 µM","t":76,"v":4.53,"e":0.06},{"s":"1 µM","t":78,"v":4.6,"e":0.06},{"s":"1 µM","t":80,"v":4.67,"e":0.06},{"s":"1 µM","t":82,"v":4.72,"e":0.06},{"s":"1 µM","t":84,"v":4.78,"e":0.06},{"s":"1 µM","t":85.8,"v":4.84,"e":0.06},
{"s":"2 µM","t":0,"v":-0.03,"e":0.01},{"s":"2 µM","t":0.5,"v":-0.09,"e":0.01},{"s":"2 µM","t":1,"v":-0.05,"e":0.01},{"s":"2 µM","t":2,"v":0.15,"e":0.02},{"s":"2 µM","t":3,"v":0.3,"e":0.02},{"s":"2 µM","t":4,"v":0.4,"e":0.02},{"s":"2 µM","t":5,"v":0.45,"e":0.02},{"s":"2 µM","t":6,"v":0.5,"e":0.02},{"s":"2 µM","t":7,"v":0.55,"e":0.02},{"s":"2 µM","t":8,"v":0.64,"e":0.02},{"s":"2 µM","t":9,"v":0.76,"e":0.02},{"s":"2 µM","t":10,"v":0.87,"e":0.02},{"s":"2 µM","t":11,"v":0.95,"e":0.02},{"s":"2 µM","t":12,"v":0.99,"e":0.02},{"s":"2 µM","t":13,"v":1.0,"e":0.02},{"s":"2 µM","t":14,"v":0.98,"e":0.02},{"s":"2 µM","t":15,"v":0.97,"e":0.02},{"s":"2 µM","t":16,"v":1.0,"e":0.02},{"s":"2 µM","t":16.9,"v":1.02,"e":0.02},
{"s":"2 µM","t":17.3,"v":1.0,"e":0.07},{"s":"2 µM","t":18,"v":1.5,"e":0.07},{"s":"2 µM","t":19,"v":1.75,"e":0.07},{"s":"2 µM","t":20,"v":1.85,"e":0.07},{"s":"2 µM","t":21,"v":1.78,"e":0.07},{"s":"2 µM","t":22,"v":1.66,"e":0.07},{"s":"2 µM","t":23,"v":1.52,"e":0.07},{"s":"2 µM","t":24,"v":1.42,"e":0.07},{"s":"2 µM","t":26,"v":1.38,"e":0.07},{"s":"2 µM","t":28,"v":1.46,"e":0.07},{"s":"2 µM","t":30,"v":1.57,"e":0.07},{"s":"2 µM","t":32,"v":1.66,"e":0.07},{"s":"2 µM","t":34,"v":1.73,"e":0.07},{"s":"2 µM","t":36,"v":1.79,"e":0.07},{"s":"2 µM","t":38,"v":1.83,"e":0.07},{"s":"2 µM","t":40,"v":1.88,"e":0.07},{"s":"2 µM","t":42,"v":1.97,"e":0.07},{"s":"2 µM","t":44,"v":2.07,"e":0.07},{"s":"2 µM","t":46,"v":2.15,"e":0.07},{"s":"2 µM","t":48,"v":2.23,"e":0.07},{"s":"2 µM","t":50,"v":2.31,"e":0.07},{"s":"2 µM","t":52,"v":2.4,"e":0.07},{"s":"2 µM","t":54,"v":2.5,"e":0.07},{"s":"2 µM","t":56,"v":2.6,"e":0.07},{"s":"2 µM","t":58,"v":2.7,"e":0.07},{"s":"2 µM","t":60,"v":2.81,"e":0.07},{"s":"2 µM","t":62,"v":2.9,"e":0.07},{"s":"2 µM","t":64,"v":2.99,"e":0.07},{"s":"2 µM","t":66,"v":3.08,"e":0.07},{"s":"2 µM","t":68,"v":3.18,"e":0.07},{"s":"2 µM","t":70,"v":3.28,"e":0.07},{"s":"2 µM","t":72,"v":3.37,"e":0.07},{"s":"2 µM","t":74,"v":3.45,"e":0.07},{"s":"2 µM","t":76,"v":3.54,"e":0.07},{"s":"2 µM","t":78,"v":3.63,"e":0.07},{"s":"2 µM","t":80,"v":3.72,"e":0.07},{"s":"2 µM","t":82,"v":3.81,"e":0.07},{"s":"2 µM","t":84,"v":3.9,"e":0.07},{"s":"2 µM","t":85.8,"v":3.98,"e":0.07}
]},
"vconcat":[
{"width":543,"height":201,"title":{"text":"A","offset":-10},"data":{"name":"A"},
"resolve":{"axis":{"x":"independent","y":"independent"}},
"layer":[
{"mark":{"type":"errorbar","ticks":{"size":3},"opacity":0.55},
"encoding":{"x":{"field":"t","type":"quantitative","axis":null},"y":{"field":"v","type":"quantitative","axis":null},"yError":{"field":"e"},
"color":{"field":"s","type":"nominal","scale":{"range":["#22dd22","#1111dd","#ee11ee","#ee1111"]},"legend":null}}},
{"mark":{"type":"line","strokeWidth":2.8},
"encoding":{"x":{"field":"t","type":"quantitative","scale":{"domain":[0,85.8],"nice":false,"zero":false},
"axis":{"orient":"bottom","values":[0,1.25,2.5,3.75,5,6.25,7.5,8.75,10,11.25,12.5,13.75,15,16.25,17.5,18.75,20,21.25,22.5,23.75,25,26.25,27.5,28.75,30,31.25,32.5,33.75,35,36.25,37.5,38.75,40,41.25,42.5,43.75,45,46.25,47.5,48.75,50,51.25,52.5,53.75,55,56.25,57.5,58.75,60,61.25,62.5,63.75,65,66.25,67.5,68.75,70,71.25,72.5,73.75,75,76.25,77.5,78.75,80,81.25,82.5,83.75,85],
"labelExpr":"abs(datum.value/10-round(datum.value/10))<0.001 ? format(datum.value,'.1f') : ''",
"tickSize":{"condition":{"test":"abs(datum.value/10-round(datum.value/10))<0.001","value":-6},"value":-3},
"gridOpacity":{"condition":{"test":"abs(datum.value/10-round(datum.value/10))<0.001","value":1},"value":0},
"grid":true,"gridDash":[1,2],"gridColor":"#999","domain":false,"tickColor":"#555","labelPadding":11,"title":"Time (in hour)","titlePadding":1}},
"y":{"field":"v","type":"quantitative","scale":{"domain":[-0.02,3.67],"nice":false,"zero":false},
"axis":{"values":[0,0.1,0.2,0.3,0.4,0.5,0.6,0.7,0.8,0.9,1,1.1,1.2,1.3,1.4,1.5,1.6,1.7,1.8,1.9,2,2.1,2.2,2.3,2.4,2.5,2.6,2.7,2.8,2.9,3,3.1,3.2,3.3,3.4,3.5,3.6],
"labelExpr":"abs(datum.value*2-round(datum.value*2))<0.001 ? format(datum.value,'.1f') : ''",
"tickSize":{"condition":{"test":"abs(datum.value*2-round(datum.value*2))<0.001","value":-6},"value":-3},
"gridOpacity":{"condition":{"test":"abs(datum.value*2-round(datum.value*2))<0.001","value":1},"value":0},
"grid":true,"gridDash":[1,2],"gridColor":"#999","domain":false,"tickColor":"#555","labelPadding":9,"title":"Normalized Cell Index","titlePadding":2,"minExtent":30,"maxExtent":30}},
"color":{"field":"s","type":"nominal","scale":{"range":["#22dd22","#1111dd","#ee11ee","#ee1111"]},"legend":null}}},
{"data":{"values":[{}]},"mark":{"type":"rule","color":"#555","strokeWidth":1.3},
"encoding":{"x":{"datum":15.7,"type":"quantitative","axis":{"orient":"top","values":[0,1.25,2.5,3.75,5,6.25,7.5,8.75,10,11.25,12.5,13.75,15,16.25,17.5,18.75,20,21.25,22.5,23.75,25,26.25,27.5,28.75,30,31.25,32.5,33.75,35,36.25,37.5,38.75,40,41.25,42.5,43.75,45,46.25,47.5,48.75,50,51.25,52.5,53.75,55,56.25,57.5,58.75,60,61.25,62.5,63.75,65,66.25,67.5,68.75,70,71.25,72.5,73.75,75,76.25,77.5,78.75,80,81.25,82.5,83.75,85],"labels":false,"grid":false,"domain":false,"title":null,"tickColor":"#555",
"tickSize":{"condition":{"test":"abs(datum.value/10-round(datum.value/10))<0.001","value":-6},"value":-3}}}}},
{"data":{"values":[{}]},"mark":{"type":"point","shape":"triangle-down","filled":true,"color":"#111","size":40,"opacity":1},
"encoding":{"x":{"datum":15.7,"type":"quantitative","axis":null},"y":{"datum":3.67,"type":"quantitative","axis":null}}},
{"data":{"values":[{}]},"mark":{"type":"text","align":"left","baseline":"middle","fontSize":12,"font":"Liberation Sans","color":"#222"},
"encoding":{"x":{"datum":1.77,"type":"quantitative","axis":null},"y":{"datum":3.43,"type":"quantitative","axis":null},"text":{"value":"Heliomycin, H1"}}},
{"mark":{"type":"point","shape":"square","filled":true,"opacity":0},
"encoding":{"fill":{"field":"s","type":"nominal","scale":{"domain":["Cont.","0.1 µM","1 µM","2 µM"],"range":["#ee0000","#11ee11","#0000ee","#ee00ee"]},
"legend":{"title":null,"orient":"none","legendX":58,"legendY":22,"symbolType":"M-2.96,-1.115H2.96V1.115H-2.96Z","symbolSize":169,"symbolStrokeWidth":1,"symbolStrokeColor":"#e8b8d8","symbolOpacity":1,"symbolOffset":10.25,"labelOffset":15,"labelFontSize":12,"labelColor":"#222","rowPadding":-5.2,"padding":0}}}}
]},
{"width":543,"height":200,"title":{"text":"B","offset":-16},"data":{"name":"B"},
"resolve":{"axis":{"x":"independent","y":"independent"}},
"layer":[
{"mark":{"type":"errorbar","ticks":{"size":3},"opacity":0.55},
"encoding":{"x":{"field":"t","type":"quantitative","axis":null},"y":{"field":"v","type":"quantitative","axis":null},"yError":{"field":"e"},
"color":{"field":"s","type":"nominal","scale":{"range":["#22dddd","#6655cc","#b08585","#dd1111"]},"legend":null}}},
{"mark":{"type":"line","strokeWidth":2.8},
"encoding":{"x":{"field":"t","type":"quantitative","scale":{"domain":[0,85.8],"nice":false,"zero":false},
"axis":{"orient":"bottom","values":[0,1.25,2.5,3.75,5,6.25,7.5,8.75,10,11.25,12.5,13.75,15,16.25,17.5,18.75,20,21.25,22.5,23.75,25,26.25,27.5,28.75,30,31.25,32.5,33.75,35,36.25,37.5,38.75,40,41.25,42.5,43.75,45,46.25,47.5,48.75,50,51.25,52.5,53.75,55,56.25,57.5,58.75,60,61.25,62.5,63.75,65,66.25,67.5,68.75,70,71.25,72.5,73.75,75,76.25,77.5,78.75,80,81.25,82.5,83.75,85],
"labelExpr":"abs(datum.value/10-round(datum.value/10))<0.001 ? format(datum.value,'.1f') : ''",
"tickSize":{"condition":{"test":"abs(datum.value/10-round(datum.value/10))<0.001","value":-6},"value":-3},
"gridOpacity":{"condition":{"test":"abs(datum.value/10-round(datum.value/10))<0.001","value":1},"value":0},
"grid":true,"gridDash":[1,2],"gridColor":"#999","domain":false,"tickColor":"#555","labelPadding":11,"title":"Time (in hour)","titlePadding":1}},
"y":{"field":"v","type":"quantitative","scale":{"domain":[-0.02,3.66],"nice":false,"zero":false},
"axis":{"values":[0,0.1,0.2,0.3,0.4,0.5,0.6,0.7,0.8,0.9,1,1.1,1.2,1.3,1.4,1.5,1.6,1.7,1.8,1.9,2,2.1,2.2,2.3,2.4,2.5,2.6,2.7,2.8,2.9,3,3.1,3.2,3.3,3.4,3.5,3.6],
"labelExpr":"abs(datum.value*2-round(datum.value*2))<0.001 ? format(datum.value,'.1f') : ''",
"tickSize":{"condition":{"test":"abs(datum.value*2-round(datum.value*2))<0.001","value":-6},"value":-3},
"gridOpacity":{"condition":{"test":"abs(datum.value*2-round(datum.value*2))<0.001","value":1},"value":0},
"grid":true,"gridDash":[1,2],"gridColor":"#999","domain":false,"tickColor":"#555","labelPadding":9,"title":"Normalized Cell Index","titlePadding":2,"minExtent":30,"maxExtent":30}},
"color":{"field":"s","type":"nominal","scale":{"range":["#22dddd","#6655cc","#b08585","#dd1111"]},"legend":null}}},
{"data":{"values":[{}]},"mark":{"type":"rule","color":"#555","strokeWidth":1.3},
"encoding":{"x":{"datum":15.7,"type":"quantitative","axis":{"orient":"top","values":[0,1.25,2.5,3.75,5,6.25,7.5,8.75,10,11.25,12.5,13.75,15,16.25,17.5,18.75,20,21.25,22.5,23.75,25,26.25,27.5,28.75,30,31.25,32.5,33.75,35,36.25,37.5,38.75,40,41.25,42.5,43.75,45,46.25,47.5,48.75,50,51.25,52.5,53.75,55,56.25,57.5,58.75,60,61.25,62.5,63.75,65,66.25,67.5,68.75,70,71.25,72.5,73.75,75,76.25,77.5,78.75,80,81.25,82.5,83.75,85],"labels":false,"grid":false,"domain":false,"title":null,"tickColor":"#555",
"tickSize":{"condition":{"test":"abs(datum.value/10-round(datum.value/10))<0.001","value":-6},"value":-3}}}}},
{"data":{"values":[{}]},"mark":{"type":"point","shape":"triangle-down","filled":true,"color":"#111","size":40,"opacity":1},
"encoding":{"x":{"datum":15.7,"type":"quantitative","axis":null},"y":{"datum":3.66,"type":"quantitative","axis":null}}},
{"data":{"values":[{}]},"mark":{"type":"text","align":"left","baseline":"middle","fontSize":12,"font":"Liberation Sans","color":"#222"},
"encoding":{"x":{"datum":10.6,"type":"quantitative","axis":null},"y":{"datum":3.39,"type":"quantitative","axis":null},"text":{"value":"HD 2"}}},
{"mark":{"type":"point","shape":"square","filled":true,"opacity":0},
"encoding":{"fill":{"field":"s","type":"nominal","scale":{"domain":["Cont.","0.1 µM","1 µM","2 µM"],"range":["#ee0000","#00e6e6","#6a5acd","#b48888"]},
"legend":{"title":null,"orient":"none","legendX":59,"legendY":23,"symbolType":"M-2.96,-1.115H2.96V1.115H-2.96Z","symbolSize":169,"symbolStrokeWidth":1,"symbolStrokeColor":"#e8b8d8","symbolOpacity":1,"symbolOffset":10.25,"labelOffset":15,"labelFontSize":12,"labelColor":"#222","rowPadding":-5.2,"padding":0}}}}
]},
{"width":543,"height":203,"title":{"text":"C","offset":-18},"data":{"name":"C"},
"resolve":{"axis":{"x":"independent","y":"independent"}},
"layer":[
{"mark":{"type":"errorbar","ticks":{"size":3},"opacity":0.55},
"encoding":{"x":{"field":"t","type":"quantitative","axis":null},"y":{"field":"v","type":"quantitative","axis":null},"yError":{"field":"e"},
"color":{"field":"s","type":"nominal","scale":{"range":["#22dddd","#6655cc","#b08585","#dd1111"]},"legend":null}}},
{"mark":{"type":"line","strokeWidth":2.8},
"encoding":{"x":{"field":"t","type":"quantitative","scale":{"domain":[0,85.8],"nice":false,"zero":false},
"axis":{"orient":"bottom","values":[0,1.25,2.5,3.75,5,6.25,7.5,8.75,10,11.25,12.5,13.75,15,16.25,17.5,18.75,20,21.25,22.5,23.75,25,26.25,27.5,28.75,30,31.25,32.5,33.75,35,36.25,37.5,38.75,40,41.25,42.5,43.75,45,46.25,47.5,48.75,50,51.25,52.5,53.75,55,56.25,57.5,58.75,60,61.25,62.5,63.75,65,66.25,67.5,68.75,70,71.25,72.5,73.75,75,76.25,77.5,78.75,80,81.25,82.5,83.75,85],
"labelExpr":"abs(datum.value/10-round(datum.value/10))<0.001 ? format(datum.value,'.1f') : ''",
"tickSize":{"condition":{"test":"abs(datum.value/10-round(datum.value/10))<0.001","value":-6},"value":-3},
"gridOpacity":{"condition":{"test":"abs(datum.value/10-round(datum.value/10))<0.001","value":1},"value":0},
"grid":true,"gridDash":[1,2],"gridColor":"#999","domain":false,"tickColor":"#555","labelPadding":11,"title":"Time (in hour)","titlePadding":1}},
"y":{"field":"v","type":"quantitative","scale":{"domain":[-0.15,5.15],"nice":false,"zero":false},
"axis":{"values":[-0.1,0.1,0.3,0.5,0.7,0.9,1.1,1.3,1.5,1.7,1.9,2.1,2.3,2.5,2.7,2.9,3.1,3.3,3.5,3.7,3.9,4.1,4.3,4.5,4.7,4.9,5.1],
"labelExpr":"abs(datum.value+0.1-round(datum.value+0.1))<0.001 ? replace(format(datum.value,'.1f'),'\u2212','-') : ''",
"tickSize":{"condition":{"test":"abs(datum.value+0.1-round(datum.value+0.1))<0.001","value":-6},"value":-3},
"gridOpacity":{"condition":{"test":"abs(datum.value+0.1-round(datum.value+0.1))<0.001","value":1},"value":0},
"grid":true,"gridDash":[1,2],"gridColor":"#999","domain":false,"tickColor":"#555","labelPadding":9,"title":"Normalized Cell Index","titlePadding":2,"minExtent":30,"maxExtent":30}},
"color":{"field":"s","type":"nominal","scale":{"range":["#22dddd","#6655cc","#b08585","#dd1111"]},"legend":null}}},
{"data":{"values":[{}]},"mark":{"type":"rule","color":"#555","strokeWidth":1.3},
"encoding":{"x":{"datum":16.9,"type":"quantitative","axis":{"orient":"top","values":[0,1.25,2.5,3.75,5,6.25,7.5,8.75,10,11.25,12.5,13.75,15,16.25,17.5,18.75,20,21.25,22.5,23.75,25,26.25,27.5,28.75,30,31.25,32.5,33.75,35,36.25,37.5,38.75,40,41.25,42.5,43.75,45,46.25,47.5,48.75,50,51.25,52.5,53.75,55,56.25,57.5,58.75,60,61.25,62.5,63.75,65,66.25,67.5,68.75,70,71.25,72.5,73.75,75,76.25,77.5,78.75,80,81.25,82.5,83.75,85],"labels":false,"grid":false,"domain":false,"title":null,"tickColor":"#555",
"tickSize":{"condition":{"test":"abs(datum.value/10-round(datum.value/10))<0.001","value":-6},"value":-3}}}}},
{"data":{"values":[{}]},"mark":{"type":"point","shape":"triangle-down","filled":true,"color":"#111","size":40,"opacity":1},
"encoding":{"x":{"datum":16.9,"type":"quantitative","axis":null},"y":{"datum":5.15,"type":"quantitative","axis":null}}},
{"data":{"values":[{}]},"mark":{"type":"text","align":"left","baseline":"middle","fontSize":12,"font":"Liberation Sans","color":"#222"},
"encoding":{"x":{"datum":10.6,"type":"quantitative","axis":null},"y":{"datum":4.75,"type":"quantitative","axis":null},"text":{"value":"HD 3"}}},
{"mark":{"type":"point","shape":"square","filled":true,"opacity":0},
"encoding":{"fill":{"field":"s","type":"nominal","scale":{"domain":["Cont.","0.1 µM","1 µM","2 µM"],"range":["#ee0000","#11ee11","#0000ee","#ee00ee"]},
"legend":{"title":null,"orient":"none","legendX":66,"legendY":24,"symbolType":"M-2.96,-1.115H2.96V1.115H-2.96Z","symbolSize":169,"symbolStrokeWidth":1,"symbolStrokeColor":"#e8b8d8","symbolOpacity":1,"symbolOffset":10.25,"labelOffset":15,"labelFontSize":12,"labelColor":"#222","rowPadding":-5.2,"padding":0}}}}
]}
]}
